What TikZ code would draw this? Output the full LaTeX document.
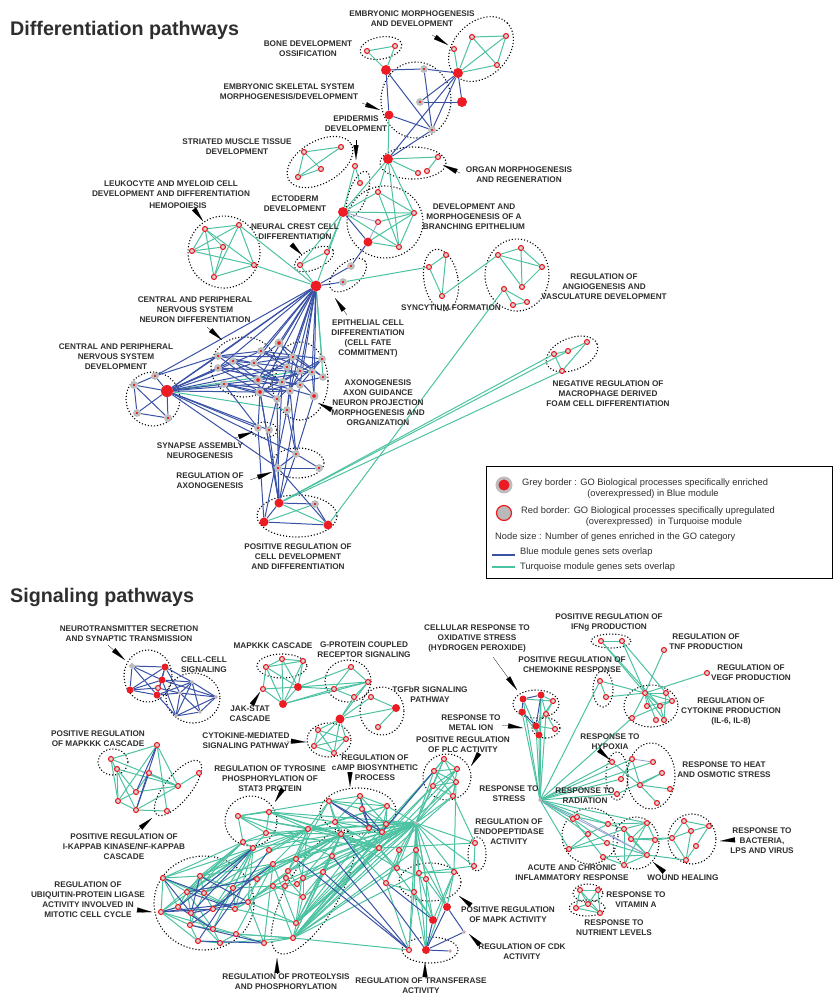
\documentclass[tikz,border=0pt]{standalone}
\usepackage{fontspec}
\setmainfont{Liberation Sans}
\usetikzlibrary{arrows.meta,backgrounds}
\definecolor{nodered}{HTML}{EC1C24}
\definecolor{ringgrey}{HTML}{BDBDBD}
\definecolor{fillgrey}{HTML}{D4D4D4}
\definecolor{bluemod}{HTML}{3A52A6}
\definecolor{turqmod}{HTML}{4CC2A2}
\definecolor{labgrey}{HTML}{2E2E2E}
\tikzset{
  tq/.style={circle,draw=nodered,fill=fillgrey,line width=1.1pt,inner sep=0pt,minimum size=5pt},
  bl/.style={circle,draw=ringgrey,fill=nodered,line width=2.4pt,inner sep=0pt,minimum size=#1},
  bl/.default=5.2pt,
  hub/.style={circle,fill=nodered,inner sep=0pt,minimum size=#1},
  hub/.default=9pt,
  sm/.style={circle,draw=ringgrey,fill=nodered,line width=0.8pt,inner sep=0pt,minimum size=2.6pt},
  bk/.style={draw=bluemod,line width=1pt},
  tk/.style={draw=turqmod,line width=1pt},
  lb/.style={draw=bluemod!55,line width=0.8pt},
  grp/.style={draw=black,dotted,line width=1.1pt},
  lab/.style={font=\fontsize{8.2}{10}\selectfont\bfseries,text=labgrey,align=center,inner sep=0pt},
  ptr/.style={-{Triangle[length=15pt,width=5pt]},line width=0.1pt,draw=black,fill=black},
  leg/.style={font=\fontsize{9.3}{11}\selectfont,text=labgrey,inner sep=0pt},
  ttl/.style={font=\fontsize{19.7}{22}\selectfont\bfseries,text=labgrey,anchor=west,inner sep=0pt},
}
\begin{document}
\begin{tikzpicture}[x=1pt,y=-1pt]
  \useasboundingbox (0,0) rectangle (835,996);
  \node[ttl] (tDiff) at (10,30) {Differentiation pathways};
  \node[ttl] (tSig) at (10,597) {Signaling pathways};

  % differentiation nodes
  \node[tq] (bo1) at (367,51) {};
  \node[tq] (bo2) at (395,46) {};
  \node[tq] (em1) at (454,49) {};
  \node[tq] (em2) at (472,37) {};
  \node[tq] (em3) at (506,36) {};
  \node[tq] (em4) at (497,65) {};
  \node[hub=10pt] (ha) at (386,70) {};
  \node[hub=10pt] (hb) at (458,73) {};
  \node[bl] (g1) at (424,69) {};
  \node[bl] (g2) at (420,102) {};
  \node[bl] (g3) at (432,130) {};
  \node[hub=10pt] (hc) at (462,102) {};
  \node[hub=9pt] (hd) at (389,115) {};
  \node[hub=10pt] (he) at (388,159) {};
  \node[tq] (og1) at (438,157) {};
  \node[tq] (og2) at (418,173) {};
  \node[tq] (og3) at (427,171) {};
  \node[tq] (ep1) at (355,166) {};
  \node[tq] (ep2) at (360,183) {};
  \node[tq] (st1) at (304,152) {};
  \node[tq] (st2) at (341,147) {};
  \node[tq] (st3) at (321,169) {};
  \node[tq] (st4) at (298,177) {};
  \node[hub=10pt] (hf) at (343,212) {};
  \node[tq] (br1) at (378,192) {};
  \node[tq] (br2) at (414,213) {};
  \node[tq] (br3) at (378,222) {};
  \node[hub=9pt] (hg) at (368,242) {};
  \node[tq] (br4) at (399,247) {};
  \node[tq] (hm1) at (205,229) {};
  \node[tq] (hm2) at (239,225) {};
  \node[tq] (hm3) at (192,251) {};
  \node[tq] (hm4) at (223,247) {};
  \node[tq] (hm5) at (254,265) {};
  \node[tq] (hm6) at (214,277) {};
  \node[tq] (nc1) at (300,265) {};
  \node[tq] (nc2) at (327,252) {};
  \node[hub=11pt] (hh) at (316,286) {};
  \node[bl] (gb1) at (351,266) {};
  \node[bl] (gb2) at (343,282) {};
  \node[tq] (sy1) at (429,267) {};
  \node[tq] (sy2) at (446,255) {};
  \node[tq] (sy3) at (442,296) {};
  \node[tq] (an1) at (498,255) {};
  \node[tq] (an2) at (521,248) {};
  \node[tq] (an3) at (542,267) {};
  \node[tq] (an4) at (522,287) {};
  \node[tq] (an5) at (504,289) {};
  \node[tq] (an6) at (513,305) {};
  \node[tq] (an7) at (527,302) {};
  \node[tq] (mc1) at (554,354) {};
  \node[tq] (mc2) at (568,351) {};
  \node[tq] (mc3) at (587,342) {};
  \node[tq] (mc4) at (562,371) {};
  \node[bl] (cd1) at (155,376) {};
  \node[bl] (cd2) at (134,385) {};
  \node[hub=12pt] (hi) at (167,391) {};
  \node[bl] (cd3) at (137,413) {};
  \node[bl] (cd4) at (168,418) {};
  \node[bl] (n1) at (218,356) {};
  \node[bl] (n2) at (233,361) {};
  \node[bl] (n3) at (218,368) {};
  \node[bl] (n4) at (224,384) {};
  \node[bl] (n5) at (261,351) {};
  \node[bl=6.5pt] (n6) at (279,343) {};
  \node[bl] (n7) at (254,363) {};
  \node[bl=6.5pt] (n8) at (258,380) {};
  \node[bl=6.5pt] (n9) at (260,392) {};
  \node[bl] (n10) at (277,399) {};
  \node[bl] (n11) at (287,410) {};
  \node[bl] (n12) at (282,382) {};
  \node[bl] (n13) at (287,367) {};
  \node[bl] (n14) at (293,357) {};
  \node[bl] (n15) at (300,371) {};
  \node[bl] (n16) at (312,372) {};
  \node[bl] (n17) at (322,359) {};
  \node[bl] (n18) at (323,377) {};
  \node[bl] (n19) at (300,385) {};
  \node[bl] (n20) at (290,391) {};
  \node[bl=6.5pt] (n21) at (314,396) {};
  \node[bl] (sa1) at (258,428) {};
  \node[bl] (sa2) at (269,430) {};
  \node[bl] (ra1) at (296,454) {};
  \node[bl] (ra2) at (278,468) {};
  \node[bl] (ra3) at (319,468) {};
  \node[hub=9pt] (pr1) at (279,503) {};
  \node[bl] (pr2) at (315,504) {};
  \node[hub=9pt] (pr3) at (264,522) {};
  \node[hub=9pt] (pr4) at (328,525) {};

  % signaling nodes
  \node[bl=3.5pt] (nt1) at (132,666) {};
  \node[hub=7pt] (nt2) at (165,667) {};
  \node[hub=7pt] (nt3) at (162,680) {};
  \node[hub=7pt] (nt4) at (130,690) {};
  \node[hub=7pt] (nt5) at (157,695) {};
  \node[tq] (nt6) at (158,688) {};
  \node[sm] (cc1) at (192,682) {};
  \node[sm] (cc2) at (216,697) {};
  \node[sm] (cc3) at (200,712) {};
  \node[sm] (cc4) at (176,716) {};
  \node[sm] (cc5) at (180,693) {};
  \node[tq] (mk1) at (266,667) {};
  \node[tq] (mk2) at (282,659) {};
  \node[tq] (mk3) at (303,661) {};
  \node[tq] (mk4) at (263,689) {};
  \node[hub=8pt] (mk5) at (298,687) {};
  \node[hub=8pt] (mk6) at (283,704) {};
  \node[tq] (gp1) at (351,667) {};
  \node[tq] (gp2) at (368,682) {};
  \node[tq] (gp3) at (334,689) {};
  \node[tq] (gp4) at (354,697) {};
  \node[tq] (tg1) at (371,697) {};
  \node[hub=8pt] (tg2) at (396,708) {};
  \node[tq] (tg3) at (378,727) {};
  \node[hub=9pt] (tgh) at (340,719) {};
  \node[tq] (cm1) at (318,730) {};
  \node[tq] (cm2) at (314,746) {};
  \node[tq] (cm3) at (346,739) {};
  \node[tq] (cm4) at (334,753) {};
  \node[tq] (pm1) at (111,759) {};
  \node[tq] (pm2) at (117,769) {};
  \node[tq] (ik1) at (157,745) {};
  \node[tq] (ik2) at (149,773) {};
  \node[tq] (ik3) at (136,792) {};
  \node[tq] (ik4) at (118,801) {};
  \node[tq] (ik5) at (136,810) {};
  \node[tq] (ik6) at (178,786) {};
  \node[tq] (ik7) at (199,773) {};
  \node[tq] (ik8) at (167,811) {};
  \node[tq] (s1) at (238,816) {};
  \node[tq] (s2) at (269,812) {};
  \node[tq] (s3) at (266,833) {};
  \node[tq] (s4) at (243,842) {};
  \node[tq] (ca1) at (329,801) {};
  \node[tq] (ca2) at (360,796) {};
  \node[tq] (ca3) at (362,809) {};
  \node[tq] (ca4) at (387,806) {};
  \node[tq] (ca5) at (335,822) {};
  \node[tq] (ca6) at (369,828) {};
  \node[tq] (ca7) at (386,824) {};
  \node[tq] (ca8) at (382,832) {};
  \node[tq] (u1) at (163,878) {};
  \node[tq] (u2) at (200,876) {};
  \node[tq] (u3) at (187,892) {};
  \node[tq] (u4) at (204,893) {};
  \node[tq] (u5) at (178,907) {};
  \node[tq] (u6) at (191,913) {};
  \node[tq] (u7) at (161,912) {};
  \node[tq] (u8) at (213,909) {};
  \node[tq] (u9) at (235,909) {};
  \node[tq] (u10) at (248,902) {};
  \node[tq] (u11) at (190,925) {};
  \node[tq] (u12) at (213,929) {};
  \node[tq] (u13) at (236,934) {};
  \node[tq] (u14) at (198,941) {};
  \node[tq] (u15) at (220,943) {};
  \node[tq] (u16) at (264,943) {};
  \node[tq] (u17) at (233,888) {};
  \node[tq] (u18) at (257,879) {};
  \node[tq] (u19) at (273,864) {};
  \node[tq] (u20) at (253,848) {};
  \node[tq] (u21) at (269,850) {};
  \node[tq] (p1) at (296,923) {};
  \node[tq] (p2) at (293,938) {};
  \node[tq] (p3) at (308,829) {};
  \node[tq] (p4) at (341,834) {};
  \node[tq] (p5) at (332,856) {};
  \node[tq] (p6) at (323,872) {};
  \node[tq] (p7) at (288,871) {};
  \node[tq] (p8) at (286,878) {};
  \node[tq] (p9) at (285,886) {};
  \node[tq] (p10) at (297,884) {};
  \node[tq] (p11) at (303,878) {};
  \node[tq] (p12) at (303,897) {};
  \node[tq] (p13) at (273,886) {};
  \node[tq] (p14) at (296,859) {};
  \node[tq] (p15) at (379,848) {};
  \node[tq] (p16) at (386,883) {};
  \node[tq] (p17) at (397,868) {};
  \node[tq] (p18) at (416,850) {};
  \node[tq] (p19) at (419,873) {};
  \node[tq] (p20) at (426,879) {};
  \node[tq] (p21) at (414,892) {};
  \node[tq] (p22) at (454,872) {};
  \node[tq] (p23) at (399,850) {};
  \node[sm] (x1) at (416,823) {};
  \node[tq] (pl1) at (444,759) {};
  \node[tq] (pl2) at (434,771) {};
  \node[tq] (pl3) at (457,769) {};
  \node[tq] (pl4) at (456,782) {};
  \node[tq] (pl5) at (433,786) {};
  \node[tq] (pl6) at (453,796) {};
  \node[tq] (en1) at (475,843) {};
  \node[tq] (en2) at (474,866) {};
  \node[hub=8pt] (mp1) at (447,907) {};
  \node[hub=8pt] (mp2) at (433,920) {};
  \node[sm] (ck1) at (464,932) {};
  \node[tq] (tr1) at (409,950) {};
  \node[hub=8pt] (tr2) at (426,950) {};
  \node[sm] (tr3) at (450,951) {};
  \node[sm] (rs) at (540,800) {};
  \node[hub=7pt] (ox1) at (523,699) {};
  \node[hub=7pt] (ox2) at (541,695) {};
  \node[hub=7pt] (ox3) at (522,712) {};
  \node[tq] (ox4) at (553,701) {};
  \node[tq] (ox5) at (546,714) {};
  \node[hub=7pt] (mi1) at (536,726) {};
  \node[hub=7pt] (mi2) at (539,735) {};
  \node[tq] (mi3) at (555,729) {};
  \node[tq] (if1) at (601,641) {};
  \node[tq] (if2) at (622,641) {};
  \node[tq] (tn) at (664,650) {};
  \node[tq] (vg) at (707,673) {};
  \node[tq] (ch1) at (600,681) {};
  \node[tq] (ch2) at (606,697) {};
  \node[tq] (cp1) at (645,693) {};
  \node[tq] (cp2) at (666,693) {};
  \node[tq] (cp3) at (672,701) {};
  \node[tq] (cp4) at (647,706) {};
  \node[tq] (cp5) at (660,706) {};
  \node[tq] (cp6) at (632,718) {};
  \node[tq] (cp7) at (656,720) {};
  \node[tq] (cp8) at (664,720) {};
  \node[tq] (hx1) at (612,762) {};
  \node[tq] (hx2) at (621,779) {};
  \node[tq] (hx3) at (617,794) {};
  \node[tq] (ht1) at (632,759) {};
  \node[tq] (ht2) at (653,762) {};
  \node[tq] (ht3) at (662,773) {};
  \node[tq] (ht4) at (640,785) {};
  \node[tq] (ht5) at (670,789) {};
  \node[tq] (ht6) at (657,803) {};
  \node[tq] (ac1) at (573,819) {};
  \node[tq] (ac2) at (577,817) {};
  \node[tq] (ac3) at (588,834) {};
  \node[tq] (ac4) at (608,824) {};
  \node[tq] (ac5) at (607,843) {};
  \node[tq] (ac6) at (569,849) {};
  \node[tq] (ac7) at (603,857) {};
  \node[tq] (wh1) at (624,829) {};
  \node[tq] (wh2) at (647,823) {};
  \node[tq] (wh3) at (631,839) {};
  \node[tq] (wh4) at (655,840) {};
  \node[tq] (wh5) at (647,855) {};
  \node[tq] (wh6) at (624,865) {};
  \node[tq] (ba1) at (684,821) {};
  \node[tq] (ba2) at (709,826) {};
  \node[tq] (ba3) at (691,831) {};
  \node[tq] (ba4) at (672,838) {};
  \node[tq] (ba5) at (696,846) {};
  \node[tq] (ba6) at (686,860) {};
  \node[tq] (va1) at (580,890) {};
  \node[tq] (va2) at (598,890) {};
  \node[tq] (va3) at (588,904) {};
  \node[tq] (va4) at (576,908) {};
  \node[tq] (va5) at (600,913) {};

  \begin{scope}[on background layer]
    % groups
    \draw[grp,rotate around={10:(381,48)}] (381,48) ellipse [x radius=21,y radius=11];
    \draw[grp,rotate around={45:(481,49)}] (481,49) ellipse [x radius=37,y radius=27];
    \draw[grp] (416,100) ellipse [x radius=35,y radius=38];
    \draw[grp] (413,163) ellipse [x radius=33,y radius=16];
    \draw[grp,rotate around={70:(358,194)}] (358,194) ellipse [x radius=24,y radius=9];
    \draw[grp,rotate around={30:(320,162)}] (320,162) ellipse [x radius=36,y radius=21];
    \draw[grp] (224,252) circle [radius=36];
    \draw[grp,rotate around={25:(314,259)}] (314,259) ellipse [x radius=21,y radius=10];
    \draw[grp] (385,222) ellipse [x radius=38,y radius=36];
    \draw[grp,rotate around={40:(348,275)}] (348,275) ellipse [x radius=22,y radius=12];
    \draw[grp,rotate around={10:(441,280)}] (441,280) ellipse [x radius=17,y radius=31];
    \draw[grp] (517,275) ellipse [x radius=32,y radius=36];
    \draw[grp] (153,399) circle [radius=27];
    \draw[grp] (244,367) ellipse [x radius=33,y radius=30];
    \draw[grp] (300,381) ellipse [x radius=28,y radius=39];
    \draw[grp] (264,430) ellipse [x radius=13,y radius=8];
    \draw[grp] (298,463) ellipse [x radius=26,y radius=15];
    \draw[grp] (297,516) ellipse [x radius=40,y radius=21];
    \draw[grp,rotate around={22:(572,354)}] (572,354) ellipse [x radius=27,y radius=16];
    \draw[grp] (148,676) ellipse [x radius=24,y radius=26];
    \draw[grp] (193,698) ellipse [x radius=27,y radius=25];
    \draw[grp] (282,666) ellipse [x radius=25,y radius=12];
    \draw[grp] (348,681) ellipse [x radius=23,y radius=21];
    \draw[grp] (382,711) ellipse [x radius=22,y radius=24];
    \draw[grp] (329,740) ellipse [x radius=22,y radius=17];
    \draw[grp] (113,762) ellipse [x radius=15,y radius=13];
    \draw[grp,rotate around={51:(178,788)}] (178,788) ellipse [x radius=34,y radius=13];
    \draw[grp] (251,821) ellipse [x radius=26,y radius=25];
    \draw[grp] (358,811) ellipse [x radius=38,y radius=23];
    \draw[grp] (204,903) ellipse [x radius=50,y radius=47];
    \draw[grp,rotate around={60:(313,892)}] (313,892) ellipse [x radius=70,y radius=26];
    \draw[grp] (430,882) ellipse [x radius=31,y radius=19];
    \draw[grp] (430,950) ellipse [x radius=28,y radius=13];
    \draw[grp] (447,777) ellipse [x radius=24,y radius=23];
    \draw[grp] (477,854) ellipse [x radius=9,y radius=17];
    \draw[grp] (536,704) ellipse [x radius=23,y radius=14];
    \draw[grp] (546,728) ellipse [x radius=14,y radius=10];
    \draw[grp] (611,641) ellipse [x radius=20,y radius=7];
    \draw[grp] (603,689) ellipse [x radius=10,y radius=18];
    \draw[grp] (651,706) ellipse [x radius=27,y radius=21];
    \draw[grp] (617,776) ellipse [x radius=11,y radius=24];
    \draw[grp] (651,776) ellipse [x radius=24,y radius=33];
    \draw[grp] (590,836) ellipse [x radius=28,y radius=28];
    \draw[grp] (636,843) ellipse [x radius=23,y radius=26];
    \draw[grp] (692,839) ellipse [x radius=24,y radius=25];
    \draw[grp] (588,893) ellipse [x radius=15,y radius=9];
    \draw[grp] (587,908) ellipse [x radius=18,y radius=8];

    % differentiation links
    \foreach \a/\b in {bo1/bo2,bo1/ha,bo2/ha,em1/hb,em2/hb,em2/em3,em2/em4,em3/em4,em4/hb,em3/hb,
      hd/he,he/og1,og1/og3,he/og2,he/hf,he/br2,he/br4,he/br1,hf/ep1,ep1/ep2,hf/br1,hf/br2,hf/br4,
      br1/br2,br1/br4,br2/br3,br2/hg,br2/br4,hg/br4,hf/nc1,hf/nc2,nc1/nc2,hf/hh,nc1/hh,hm2/hh,hm5/hh,
      st1/st2,st1/st3,st1/st4,st2/st4,st3/st4,hm1/hm2,hm1/hm3,hm1/hm4,hm1/hm5,hm1/hm6,hm2/hm3,hm2/hm5,
      hm3/hm4,hm3/hm5,hm4/hm6,hm5/hm6,hm2/hm6,gb2/sy1,sy1/sy2,sy1/sy3,sy2/sy3,sy3/an1,an1/an2,an1/an3,
      an1/an4,an2/an3,an2/an4,an3/an4,an5/an6,an5/an7,an6/an7,an5/pr4,pr1/mc1,pr1/mc2,pr1/mc4,
      mc1/mc2,mc2/mc3,mc1/mc4,mc3/mc4,hh/n17,hh/n18,hi/n4,hi/n11,hi/n15,pr1/pr4,pr3/pr2}
      \draw[tk] (\a) -- (\b);
    \foreach \a/\b in {hf/br3,br3/hg}
      \draw[lb] (\a) -- (\b);
    \foreach \a/\b in {ha/g1,g1/hb,ha/hd,ha/g3,g1/g3,g2/hc,g2/hb,hb/hc,hb/g3,hd/g3,he/hb,he/g3,
      hf/hg,hg/gb1,hh/gb1,hh/gb2,hi/cd1,hi/cd2,hi/cd3,hi/cd4,cd2/cd3,cd2/cd4,cd3/cd4,cd1/cd2,cd1/hh,
      hi/hh,hi/n1,hi/n2,hi/n3,hi/n5,hi/n7,hi/n8,hi/n9,hi/n12,hi/n13,hi/sa1,hi/sa2,hi/ra1,hi/ra2,cd1/n1,
      hh/n1,hh/n5,hh/n6,hh/n7,hh/n8,hh/n12,hh/n13,hh/n14,hh/n15,hh/n16,hh/n19,hh/n20,hh/n9,hh/n3,hh/n21,
      n1/n5,n1/n7,n1/n14,n2/n8,n2/n13,n3/n9,n3/n12,n3/n16,n4/n9,n4/n10,n4/n20,n5/n13,n5/n17,n6/n15,
      n6/n18,n7/n12,n7/n14,n8/n16,n8/n21,n9/n15,n9/n18,n10/n13,n10/n17,n11/n14,n12/n19,n12/n17,
      n13/n21,n14/n18,n15/n20,n16/n21,n19/n17,n20/n11,n2/n12,n3/n19,n6/n7,n5/n16,n1/n10,n8/n14,n9/n20,
      n9/sa1,n10/sa2,n8/pr1,n9/pr1,n10/pr1,n11/ra1,n11/pr3,n4/sa1,n20/ra1,n21/ra1,sa2/pr1,sa1/pr3,
      n19/pr1,n12/ra2,ra1/ra2,ra1/ra3,ra2/ra3,ra1/pr1,ra2/pr1,ra2/pr4,pr1/pr2,pr1/pr3,pr3/pr4,pr2/pr4}
      \draw[bk] (\a) -- (\b);

    % signaling links
    \foreach \a/\b in {nt1/nt2,nt1/nt3,nt1/nt4,nt1/nt5,nt2/nt3,nt2/nt4,nt2/nt5,nt2/cc5,nt3/nt4,nt3/nt5,
      nt3/cc1,nt3/cc4,nt4/nt5,nt4/nt6,nt5/cc5,nt5/cc1,nt5/cc4,nt6/cc5,cc1/cc2,cc1/cc3,cc1/cc4,cc1/cc5,
      cc2/cc3,cc2/cc4,cc2/cc5,cc3/cc4,cc3/cc5,cc4/cc5,nt2/cc1,nt3/cc2}
      \draw[bk] (\a) -- (\b);
    \foreach \a/\b in {mk1/mk2,mk2/mk3,mk1/mk3,mk1/mk4,mk1/mk5,mk2/mk5,mk2/mk6,mk3/mk5,mk3/mk6,mk4/mk5,
      mk4/mk6,mk1/mk6,mk5/mk6,mk5/gp1,mk5/gp3,mk5/gp2,mk6/gp3,mk6/gp2,gp1/gp2,gp1/gp3,gp2/gp3,gp3/gp4,
      gp2/gp4,tg1/tg2,tg2/tg3,tg1/tgh,tg2/tgh,gp4/tgh,gp2/tgh,cm1/cm2,cm1/cm3,cm1/cm4,cm2/cm3,cm2/cm4,
      cm3/cm4,tgh/cm1,tgh/cm2,tgh/cm3,tgh/cm4,
      pm1/ik1,pm1/ik4,pm1/ik5,pm2/ik3,pm2/ik4,pm2/ik6,ik1/ik4,ik1/ik6,ik2/ik6,ik2/ik3,ik4/ik5,ik4/ik3,
      ik5/ik8,ik5/ik6,ik6/ik7,ik3/ik6,pm1/ik6,ik1/ik8}
      \draw[tk] (\a) -- (\b);
    \foreach \a/\b in {ik1/ik3,ik1/ik5,ik2/ik5}
      \draw[bk] (\a) -- (\b);
    \foreach \b in {pl1,pl2,pl3,pl4,pl5,pl6,ca4,ca7,p15,p16,p17,p18,p19,p20,p21,p22,en1,en2,mp1,mp2,tr1,
      p4,p3,p5,p6,p14,p10,s2,s3,p1,p2,u19,ca5,p12,u10,p7,p23,u21,p13}
      \draw[tk] (x1) -- (\b);
    \foreach \b in {pl2,pl5,pl6,p15,p18,p17,p4,p5,p19,u13,u16,p12,tr1,u15,pl1,pl3}
      \draw[tk] (p2) -- (\b);
    \foreach \b in {p4,p3,pl5,p15,ca4,u19,u9,u10,p6,pl4,pl2}
      \draw[tk] (p1) -- (\b);
    \foreach \b in {s1,s2,s3,u20,u19,u18,ca1,ca5,p14,p7,p6,p5,p15,p16,p17,p10,u17,u10,ca8}
      \draw[tk] (p4) -- (\b);
    \foreach \b in {s1,s2,s4,u20,u21,u19,p14,p7,ca1,ca5,p15,ca4,u2,u4}
      \draw[tk] (p3) -- (\b);
    \foreach \b in {u1,u2,u3,u4,u5,u8,u9,u10,u17,s4,s3,u7,u12}
      \draw[tk] (u20) -- (\b);
    \foreach \b in {u2,u4,u8,u17,u9,u16,u13}
      \draw[tk] (u19) -- (\b);
    \foreach \a/\b in {s1/s2,s1/s3,s1/s4,s2/s3,s3/s4,s1/ca1,s2/ca5,s3/p15,s4/u1,s4/u2,s4/u3,s4/u5,s4/u7,
      s2/p15,s1/p5,ca5/p15,ca1/p14,u18/p4,
      u1/u2,u1/u3,u1/u5,u1/u7,u2/u4,u2/u3,u3/u5,u3/u6,u4/u8,u4/u9,u5/u6,u5/u7,u6/u11,u6/u12,u7/u11,
      u8/u9,u9/u10,u10/u16,u11/u14,u12/u15,u13/u15,u14/u15,u13/u16,u7/u14,u3/u12,u4/u11,u17/u9,u18/u10,
      u17/u8,u2/u17,u6/u15,u11/u13,u7/u13,u1/u9,u10/p7,u9/p13,u13/p2,u17/p13,u18/p14,u19/p14,p13/p2,
      ca1/ca2,ca1/ca3,ca1/ca4,ca2/ca3,ca2/ca4,ca2/ca7,ca3/ca7,ca4/ca7,ca5/ca6,ca5/ca2,ca6/ca7,ca7/ca8,
      ca1/ca5,ca4/ca8,ca5/ca4,pl1/pl2,pl1/pl3,pl1/pl4,pl1/pl5,pl2/pl3,pl2/pl4,pl2/pl6,pl3/pl5,pl3/pl6,
      pl4/pl5,pl5/pl6,pl4/pl6,en1/en2,en1/p15,en2/p19,p18/p19,p18/p21,p17/p20,p19/p22,p22/mp1,p22/mp2,
      p20/mp1,p21/mp2,p19/mp2,p18/mp1,p15/p17,p16/p21,p15/mp2,p16/tr1,p21/tr1,p21/tr2,p19/tr2,p20/tr2,
      p22/tr2,p7/p8,p7/p10,p8/p9,p9/p10,p10/p11,p11/p12,p8/p12,p13/p9,p13/p12,p14/p11,p6/p11,p5/p6,
      p14/p7,p6/p12,p5/p11,p23/p17,p23/p16,en1/pl6,p22/pl4}
      \draw[tk] (\a) -- (\b);
    \foreach \a/\b in {u1/u4,u1/u6,u7/u5,u7/u8,u7/u10,u3/u9,u5/u12,u6/u10,u11/u16,u14/u16,u2/u10,
      u20/u5,u20/u6,u19/u11,u21/u12,u18/u3,u17/u14,u2/u6,p4/tr2,p5/tr1,p6/tr1,p14/tr1,ca8/pl2,
      mp1/tr2,mp1/ck1,mp2/tr2,ck1/tr2,tr2/tr3,p16/mp2,ca1/ca6,ca3/ca8,ca2/ca6,ca3/ca6,ca1/ca8}
      \draw[bk] (\a) -- (\b);
    \foreach \b in {ox1,ox3,ox2,mi1,mi2,ox5,ch1,cp6,hx1,hx2,hx3,ht1,ht2,ac1,ac2,ac3,ac4,ac6,wh2}
      \draw[tk] (rs) -- (\b);
    \foreach \a/\b in {ox1/ox4,ox2/ox4,ox2/ox5,ox4/ox5,ox2/mi2,ox3/mi2,ox5/mi3,mi1/mi3,ox4/mi1,ox1/mi2,
      mi1/mi2,if1/if2,if1/cp1,if2/cp1,if2/cp2,if1/cp5,tn/cp1,vg/cp1,ch1/ch2,ch1/cp1,ch2/cp1,cp1/cp2,
      cp1/cp3,cp1/cp4,cp1/cp5,cp1/cp6,cp1/cp7,cp1/cp8,cp2/cp3,cp3/cp5,cp4/cp3,cp6/cp3,cp5/cp8,cp2/cp8,
      hx1/ht4,hx2/ht1,hx3/ht3,ht1/ht4,ht4/ht3,ht4/ht6,ht4/ht5,
      ac1/ac5,ac2/ac4,ac1/ac7,ac3/ac6,ac6/ac5,ac6/wh1,ac5/wh5,ac7/wh5,ac4/wh1,ac4/wh2,ac3/ac4,
      wh1/wh2,wh1/wh3,wh1/wh5,wh1/wh6,wh2/wh3,wh2/wh4,wh2/wh6,wh3/wh4,wh3/wh5,wh3/ba4,wh4/ba4,
      wh5/wh4,wh5/wh6,wh5/ba6,wh6/ac7,ba1/ba2,ba1/ba3,ba1/ba4,ba2/ba5,ba3/ba4,ba3/ba6,ba4/ba6,
      ba5/ba6,ba2/ba3,va1/va2,va1/va3,va2/va3,va1/va4,va3/va4,va3/va5,va2/va5,va4/va5,va1/va5}
      \draw[tk] (\a) -- (\b);
    \foreach \a/\b in {ox1/ox2,ox1/ox3,ox3/mi1,ox2/mi1}
      \draw[bk] (\a) -- (\b);
    \foreach \a/\b in {ht1/ht2,rs/wh5,ac2/wh5}
      \draw[lb] (\a) -- (\b);
  \end{scope}

  % labels
  \node[lab] (tBone) at (308,49) {BONE DEVELOPMENT\\OSSIFICATION};
  \node[lab] (tEmbMorph) at (412,19) {EMBRYONIC MORPHOGENESIS\\AND DEVELOPMENT};
  \node[lab] (tEmbSkel) at (289,92) {EMBRYONIC SKELETAL SYSTEM\\MORPHOGENESIS/DEVELOPMENT};
  \node[lab] (tEpid) at (356,124) {EPIDERMIS\\DEVELOPMENT};
  \node[lab] (tMuscle) at (237,147) {STRIATED MUSCLE TISSUE\\DEVELOPMENT};
  \node[lab] (tOrgan) at (519,175) {ORGAN MORPHOGENESIS\\AND REGENERATION};
  \node[lab] (tLeuko) at (171,189) {LEUKOCYTE AND MYELOID CELL\\DEVELOPMENT AND DIFFERENTIATION};
  \node[lab] (tHemo) at (178,206) {HEMOPOIESIS};
  \node[lab] (tEcto) at (295,204) {ECTODERM\\DEVELOPMENT};
  \node[lab] (tBranch) at (474,217) {DEVELOPMENT AND\\MORPHOGENESIS OF A\\BRANCHING EPITHELIUM};
  \node[lab] (tCrest) at (295,232) {NEURAL CREST CELL\\DIFFERENTIATION};
  \node[lab] (tSync) at (451,308) {SYNCYTIUM FORMATION};
  \node[lab] (tAngio) at (604,287) {REGULATION OF\\ANGIOGENESIS AND\\VASCULATURE DEVELOPMENT};
  \node[lab] (tNeuDiff) at (195,310) {CENTRAL AND PERIPHERAL\\NERVOUS SYSTEM\\NEURON DIFFERENTIATION};
  \node[lab] (tEpith) at (368,338) {EPITHELIAL CELL\\DIFFERENTIATION\\(CELL FATE\\COMMITMENT)};
  \node[lab] (tNsDev) at (116,357) {CENTRAL AND PERIPHERAL\\NERVOUS SYSTEM\\DEVELOPMENT};
  \node[lab] (tAxon) at (378,403) {AXONOGENESIS\\AXON GUIDANCE\\NEURON PROJECTION\\MORPHOGENESIS AND\\ORGANIZATION};
  \node[lab] (tFoam) at (608,394) {NEGATIVE REGULATION OF\\MACROPHAGE DERIVED\\FOAM CELL DIFFERENTIATION};
  \node[lab] (tSynapse) at (200,451) {SYNAPSE ASSEMBLY\\NEUROGENESIS};
  \node[lab] (tRegAxon) at (210,481) {REGULATION OF\\AXONOGENESIS};
  \node[lab] (tPosCell) at (298,557) {POSITIVE REGULATION OF\\CELL DEVELOPMENT\\AND DIFFERENTIATION};

  \node[lab] (tNeuro) at (129,634) {NEUROTRANSMITTER SECRETION\\AND SYNAPTIC TRANSMISSION};
  \node[lab] (tCellCell) at (204,665) {CELL-CELL\\SIGNALING};
  \node[lab] (tMapkkk) at (273,646) {MAPKKK CASCADE};
  \node[lab] (tGprot) at (364,650) {G-PROTEIN COUPLED\\RECEPTOR SIGNALING};
  \node[lab] (tJak) at (250,714) {JAK-STAT\\CASCADE};
  \node[lab] (tTgf) at (430,695) {TGFbR SIGNALING\\PATHWAY};
  \node[lab] (tCytMed) at (246,741) {CYTOKINE-MEDIATED\\SIGNALING PATHWAY};
  \node[lab] (tPosMapkkk) at (98,739) {POSITIVE REGULATION\\OF MAPKKK CASCADE};
  \node[lab] (tKappa) at (124,847) {POSITIVE REGULATION OF\\I-KAPPAB KINASE/NF-KAPPAB\\CASCADE};
  \node[lab] (tStat) at (270,779) {REGULATION OF TYROSINE\\PHOSPHORYLATION OF\\STAT3 PROTEIN};
  \node[lab] (tCamp) at (375,768) {REGULATION OF\\cAMP BIOSYNTHETIC\\PROCESS};
  \node[lab] (tUbiq) at (88,900) {REGULATION OF\\UBIQUITIN-PROTEIN LIGASE\\ACTIVITY INVOLVED IN\\MITOTIC CELL CYCLE};
  \node[lab] (tProteo) at (286,982) {REGULATION OF PROTEOLYSIS\\AND PHOSPHORYLATION};
  \node[lab] (tTrans) at (421,986) {REGULATION OF TRANSFERASE\\ACTIVITY};
  \node[lab] (tOxid) at (477,638) {CELLULAR RESPONSE TO\\OXIDATIVE STRESS\\(HYDROGEN PEROXIDE)};
  \node[lab] (tMetal) at (471,723) {RESPONSE TO\\METAL ION};
  \node[lab] (tPlc) at (463,745) {POSITIVE REGULATION\\OF PLC ACTIVITY};
  \node[lab] (tIfn) at (609,622) {POSITIVE REGULATION OF\\IFNg PRODUCTION};
  \node[lab] (tTnf) at (706,642) {REGULATION OF\\TNF PRODUCTION};
  \node[lab] (tVegf) at (751,673) {REGULATION OF\\VEGF PRODUCTION};
  \node[lab] (tChemo) at (572,665) {POSITIVE REGULATION OF\\CHEMOKINE RESPONSE};
  \node[lab] (tCytProd) at (731,711) {REGULATION OF\\CYTOKINE PRODUCTION\\(IL-6, IL-8)};
  \node[lab] (tHypox) at (610,742) {RESPONSE TO\\HYPOXIA};
  \node[lab] (tHeat) at (724,770) {RESPONSE TO HEAT\\AND OSMOTIC STRESS};
  \node[lab] (tStress) at (509,794) {RESPONSE TO\\STRESS};
  \node[lab] (tRadia) at (585,796) {RESPONSE TO\\RADIATION};
  \node[lab] (tEndo) at (509,832) {REGULATION OF\\ENDOPEPTIDASE\\ACTIVITY};
  \node[lab] (tBact) at (762,841) {RESPONSE TO\\BACTERIA,\\LPS AND VIRUS};
  \node[lab] (tAcute) at (572,873) {ACUTE AND CHRONIC\\INFLAMMATORY RESPONSE};
  \node[lab] (tWound) at (683,878) {WOUND HEALING};
  \node[lab] (tVitA) at (636,900) {RESPONSE TO\\VITAMIN A};
  \node[lab] (tNutri) at (614,928) {RESPONSE TO\\NUTRIENT LEVELS};
  \node[lab] (tMapk) at (508,915) {POSITIVE REGULATION\\OF MAPK ACTIVITY};
  \node[lab] (tCdk) at (522,952) {REGULATION OF CDK\\ACTIVITY};

  % pointers
  \draw[ptr] (432,35) -- (448,45);
  \draw[ptr] (362,103) -- (380,110);
  \draw[ptr] (356,140) -- (356,160);
  \draw[ptr] (460,173) -- (443,165);
  \draw[ptr] (197,213) -- (203,221);
  \draw[ptr] (295,248) -- (302,255);
  \draw[ptr] (207,327) -- (222,340);
  \draw[ptr] (347,315) -- (335,298);
  \draw[ptr] (328,408) -- (318,403);
  \draw[ptr] (235,438) -- (253,432);
  \draw[ptr] (250,480) -- (272,472);
  \draw[ptr] (108,645) -- (125,660);
  \draw[ptr] (253,703) -- (260,692);
  \draw[ptr] (287,741) -- (306,742);
  \draw[ptr] (138,830) -- (152,818);
  \draw[ptr] (281,792) -- (275,802);
  \draw[ptr] (350,774) -- (350,787);
  \draw[ptr] (137,910) -- (152,912);
  \draw[ptr] (277,973) -- (277,958);
  \draw[ptr] (425,976) -- (425,962);
  \draw[ptr] (493,657) -- (517,690);
  \draw[ptr] (502,725) -- (523,728);
  \draw[ptr] (478,755) -- (471,766);
  \draw[ptr] (600,751) -- (610,760);
  \draw[ptr] (733,840) -- (720,841);
  \draw[ptr] (662,870) -- (653,862);
  \draw[ptr] (468,903) -- (459,896);
  \draw[ptr] (478,943) -- (469,934);

  % legend
  \draw[line width=0.8pt] (486,466) rectangle (832,578);
  \node[circle,fill=nodered,draw=ringgrey,line width=3pt,minimum size=14pt,inner sep=0pt] (kBlue) at (504,485) {};
  \node[circle,fill=gray!55,draw=nodered,line width=1.2pt,minimum size=15pt,inner sep=0pt] (kTurq) at (504,513) {};
  \node[leg,anchor=west] (kT1) at (522,483) {Grey border : GO Biological processes specifically enriched};
  \node[leg] (kT2) at (653,494) {(overexpressed) in Blue module};
  \node[leg,anchor=west] (kT3) at (521,511) {Red border: GO Biological processes specifically upregulated};
  \node[leg] (kT4) at (664,522) {(overexpressed)\ \ in Turquoise module};
  \node[leg,anchor=west] (kT5) at (495,537) {Node size : Number of genes enriched in the GO category};
  \coordinate (kb1) at (492,555);
  \coordinate (kb2) at (515,555);
  \draw[bk,line width=1.4pt] (kb1) -- (kb2);
  \node[leg,anchor=west] (kT6) at (520,552) {Blue module genes sets overlap};
  \coordinate (kt1) at (492,567);
  \coordinate (kt2) at (515,567);
  \draw[tk,line width=1.4pt] (kt1) -- (kt2);
  \node[leg,anchor=west] (kT7) at (520,567) {Turquoise module genes sets overlap};
\end{tikzpicture}
\end{document}
